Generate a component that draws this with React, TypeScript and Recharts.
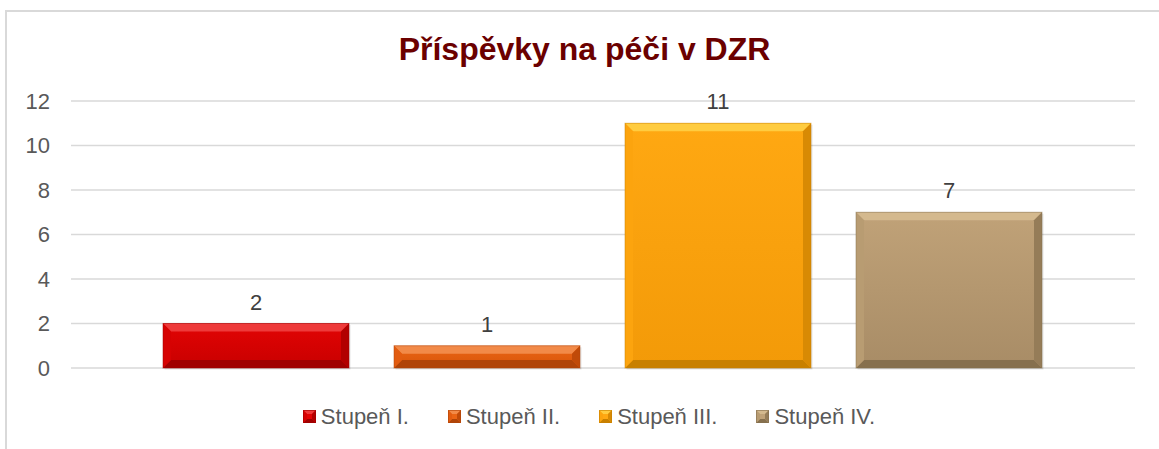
import React from 'react';
import { BarChart, Bar, XAxis, YAxis, CartesianGrid, LabelList } from 'recharts';

const categories = ['DZR'];
const seriesNames = ['Stupeň I.', 'Stupeň II.', 'Stupeň III.', 'Stupeň IV.'];
const seriesKeys = ['s1', 's2', 's3', 's4'];
const seriesValues = [2, 1, 11, 7];
const yTicks = [0, 2, 4, 6, 8, 10, 12];
const title = 'Příspěvky na péči v DZR';

type Pal = { top: string; low: string; light: string; bottom: string; left: string; right: string };
const palettes: Pal[] = [
  { top: '#e20404', low: '#c80000', light: '#ee3a3a', bottom: '#a00000', left: '#d60202', right: '#b20000' },
  { top: '#ea6414', low: '#d8560a', light: '#f28a48', bottom: '#b04408', left: '#e25c10', right: '#c04a08' },
  { top: '#ffa812', low: '#f39a08', light: '#ffcc40', bottom: '#c88000', left: '#fca40e', right: '#d88a04' },
  { top: '#c0a278', low: '#a88c66', light: '#d4b98e', bottom: '#86704e', left: '#b89c72', right: '#957c58' },
];

const data = categories.map((c) => {
  const row: Record<string, string | number> = { name: c };
  seriesKeys.forEach((k, i) => {
    row[k] = seriesValues[i];
  });
  return row;
});

const FONT = '"Liberation Sans", Arial, sans-serif';

const makeShape = (i: number) => (props: any) => {
  const { x, y, width, height } = props;
  if (!height || height <= 0) return null;
  const p = palettes[i];
  const w = width;
  const h = height;
  const b = Math.min(8, h / 2, w / 2);
  const gid = `grad-${i}`;
  return (
    <g>
      <defs>
        <linearGradient id={gid} x1="0" y1="0" x2="0" y2="1">
          <stop offset="0%" stopColor={p.top} />
          <stop offset="100%" stopColor={p.low} />
        </linearGradient>
      </defs>
      <rect x={x + 1.5} y={y + 1.5} width={w} height={h} fill="#000" opacity={0.1} />
      <rect x={x} y={y} width={w} height={h} fill={`url(#${gid})`} />
      <polygon points={`${x},${y} ${x + w},${y} ${x + w - b},${y + b} ${x + b},${y + b}`} fill={p.light} />
      <polygon points={`${x},${y + h} ${x + w},${y + h} ${x + w - b},${y + h - b} ${x + b},${y + h - b}`} fill={p.bottom} />
      <polygon points={`${x},${y} ${x + b},${y + b} ${x + b},${y + h - b} ${x},${y + h}`} fill={p.left} />
      <polygon points={`${x + w},${y} ${x + w - b},${y + b} ${x + w - b},${y + h - b} ${x + w},${y + h}`} fill={p.right} />
      <rect x={x} y={y} width={w} height={h} fill="none" stroke={p.bottom} strokeOpacity={0.5} strokeWidth={1} />
    </g>
  );
};

const LegendBlock = () => (
  <div style={{ display: 'flex', justifyContent: 'center', fontFamily: FONT, fontSize: 22, color: '#595959' }}>
    {seriesNames.map((n, i) => {
      const p = palettes[i];
      return (
        <div key={n} style={{ display: 'flex', alignItems: 'center', marginRight: i < seriesNames.length - 1 ? 39 : 0 }}>
          <svg width={15} height={14} style={{ marginRight: 3 }}>
            <rect x={0} y={0} width={13} height={13} fill={p.top} />
            <polygon points="0,0 13,0 9,4 4,4" fill={p.light} />
            <polygon points="0,13 13,13 9,9 4,9" fill={p.bottom} />
            <polygon points="0,0 4,4 4,9 0,13" fill={p.left} />
            <polygon points="13,0 9,4 9,9 13,13" fill={p.right} />
            <rect x={0.5} y={0.5} width={12} height={12} fill="none" stroke={p.bottom} strokeOpacity={0.6} />
          </svg>
          <span>{n}</span>
        </div>
      );
    })}
  </div>
);

export default function App() {
  return (
    <div style={{ position: 'absolute', left: 0, top: 0, width: 1159, height: 449, background: '#fff', overflow: 'hidden' }}>
      <div style={{ position: 'absolute', left: 5, top: 10, width: 1200, height: 500, borderTop: '2px solid #d9d9d9', borderLeft: '2px solid #d9d9d9' }} />
      <div style={{ position: 'absolute', left: 5, width: 1159, top: 31, textAlign: 'center', fontFamily: FONT, fontWeight: 'bold', fontSize: 32, color: '#6b0000' }}>
        {title}
      </div>
      <div style={{ position: 'absolute', left: 0, top: 0 }}>
        <BarChart
          width={1159}
          height={449}
          data={data}
          margin={{ top: 101, right: 24, bottom: 81, left: 0 }}
          barGap={45}
          barCategoryGap={92}
        >
          <CartesianGrid vertical={false} stroke="#d9d9d9" strokeWidth={1.5} />
          <XAxis dataKey="name" hide />
          <YAxis
            width={71}
            domain={[0, 12]}
            ticks={yTicks}
            axisLine={false}
            tickLine={false}
            tickSize={0}
            tickMargin={21}
            interval={0}
            tick={{ fill: '#595959', fontSize: 22, fontFamily: FONT }}
          />
          {seriesKeys.map((k, i) => (
            <Bar key={k} dataKey={k} name={seriesNames[i]} fill={palettes[i].top} shape={makeShape(i)} isAnimationActive={false}>
              <LabelList
                dataKey={k}
                position="top"
                offset={14}
                style={{ fill: '#404040', fontSize: 22, fontFamily: FONT }}
              />
            </Bar>
          ))}
        </BarChart>
      </div>
      <div style={{ position: 'absolute', left: 0, top: 404, width: 1178 }}>
        <LegendBlock />
      </div>
    </div>
  );
}
